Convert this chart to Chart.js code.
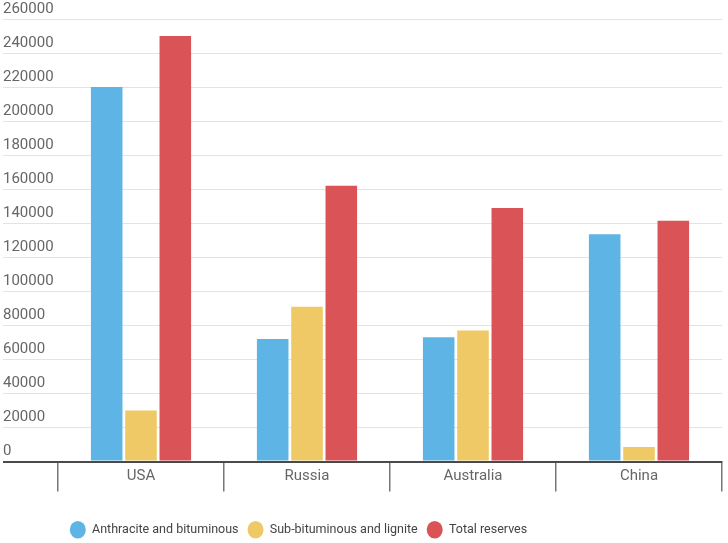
<!DOCTYPE html>
<html>
<head>
<meta charset="utf-8">
<script src="https://cdn.jsdelivr.net/npm/chart.js@4/dist/chart.umd.min.js"></script>
<style>
  html, body { margin: 0; padding: 0; background: #fff; }
  #wrap { width: 728px; height: 543px; }
</style>
</head>
<body>
<div id="wrap"><canvas id="chart"></canvas></div>
<script>
// data
const countries   = ['USA', 'Russia', 'Australia', 'China'];
const anthracite  = [220000, 72000, 73000, 133500];
const subBitum    = [30000, 91000, 77000, 8500];
const totalRes    = [250000, 162000, 149000, 141500];
const yMax  = 260000;
const yStep = 20000;

// move the legend a bit to the left, like the original
const legendShift = {
  id: 'legendShift',
  afterLayout(chart) {
    if (chart.legend) {
      chart.legend.left -= 64;
      chart.legend.right -= 64;
    }
  }
};

const ctx = document.getElementById('chart').getContext('2d');
new Chart(ctx, {
  type: 'bar',
  data: {
    labels: countries,
    datasets: [
      { label: 'Anthracite and bituminous', data: anthracite, backgroundColor: '#5eb5e5' },
      { label: 'Sub-bituminous and lignite', data: subBitum, backgroundColor: '#eec965' },
      { label: 'Total reserves', data: totalRes, backgroundColor: '#da5356' }
    ]
  },
  options: {
    responsive: true,
    maintainAspectRatio: false,
    animation: false,
    layout: { padding: { top: 19, left: 3, right: 6, bottom: -3 } },
    datasets: { bar: { categoryPercentage: 0.62, barPercentage: 0.92 } },
    scales: {
      x: {
        afterFit(scale) { scale.height = 53; },
        grid: {
          offset: true,
          drawOnChartArea: false,
          tickLength: 30,
          color: '#777',
          lineWidth: 1.5
        },
        border: { display: true, color: '#4a4a4a', width: 2 },
        ticks: { color: '#666', padding: -24, font: { family: 'Roboto', size: 15 } }
      },
      y: {
        min: 0,
        max: yMax,
        afterFit(scale) { scale.width = 55; },
        border: { display: false },
        grid: {
          tickLength: 55,
          color: c => (c.tick && c.tick.value === 0) ? '#4a4a4a' : '#e3e3e3',
          lineWidth: c => (c.tick && c.tick.value === 0) ? 2 : 1
        },
        ticks: {
          stepSize: yStep,
          crossAlign: 'far',
          labelOffset: -10,
          color: '#666',
          font: { family: 'Roboto', size: 15 },
          callback: v => String(v)
        }
      }
    },
    plugins: {
      legend: {
        position: 'bottom',
        labels: {
          usePointStyle: true,
          pointStyle: 'circle',
          pointStyleWidth: 16,
          boxHeight: 14,
          padding: 9,
          color: '#444',
          font: { family: 'Roboto', size: 12.5 }
        }
      },
      tooltip: { enabled: false }
    }
  },
  plugins: [legendShift]
});
</script>
</body>
</html>
